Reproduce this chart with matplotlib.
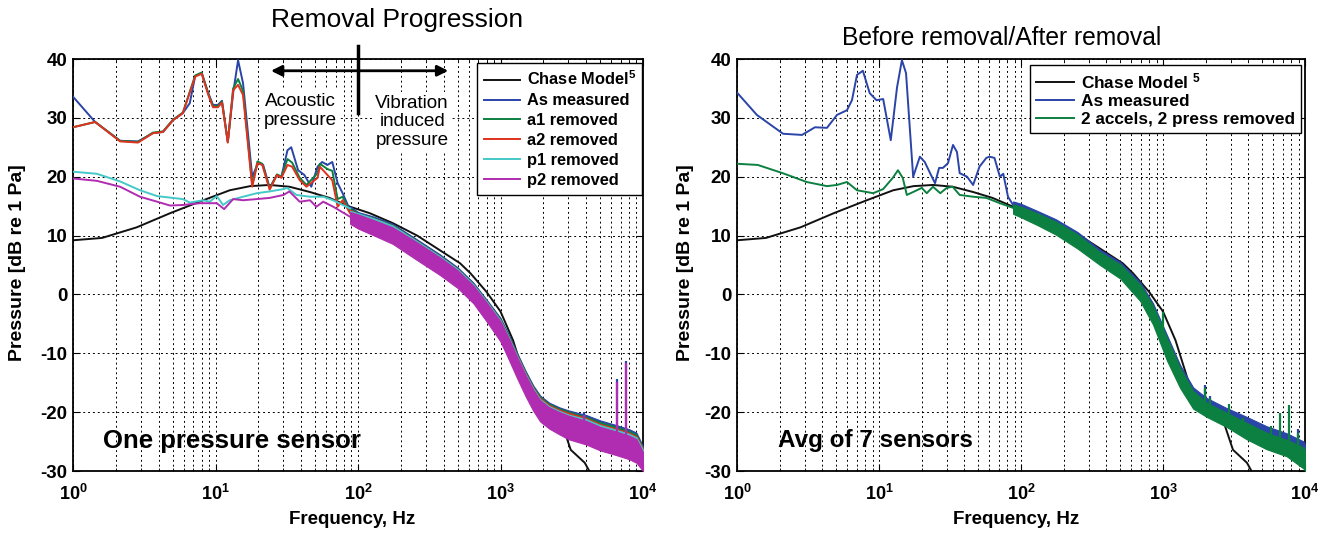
import numpy as np
import matplotlib
matplotlib.use("Agg")
import matplotlib.pyplot as plt

plt.rcParams['font.family'] = ['Liberation Sans', 'DejaVu Sans']
plt.rcParams['mathtext.fontset'] = 'custom'
plt.rcParams['mathtext.rm'] = 'Liberation Sans'
plt.rcParams['mathtext.bf'] = 'Liberation Sans:bold'
plt.rcParams['mathtext.default'] = 'regular'

# ---------------- data ----------------
# Chase model (same curve on both panels)
CHASE_F = [1, 1.6, 2.8, 4.8, 8.2, 12.6, 17.5, 24, 33, 46, 63, 88, 121, 176, 260, 376,
           520, 615, 800, 1000, 1225, 1440, 1590, 1820, 2400, 2600, 3110, 3900, 4200]
CHASE_DB = [9.2, 9.6, 11.4, 13.8, 16.0, 17.7, 18.4, 18.6, 18.3, 17.4, 16.4, 14.9, 13.8, 12.1,
            10.0, 7.5, 5.3, 3.6, 0.4, -2.9, -7.8, -13.2, -16.6, -17.6, -20.0, -20.8, -26.4,
            -28.6, -30.0]

# Left panel: low-frequency traces
BLUE_L_F = [1, 1.43, 2.14, 2.86, 3.64, 4.28, 5.03, 5.9, 6.6, 7.2, 8.0, 8.9, 9.6, 10.4, 11.1,
            12.2, 13.3, 14.4, 15.6, 18.1, 19.9, 21.6, 24, 27, 29, 32, 34, 38, 42, 47, 52, 56,
            61, 66, 72, 78, 88]
BLUE_L_DB = [33.6, 29.3, 26.1, 26.0, 27.4, 27.6, 29.6, 30.8, 32.5, 37.1, 37.6, 34.2, 32.2,
             32.2, 32.9, 25.9, 34.2, 39.8, 35.9, 20.0, 22.3, 22.0, 18.1, 20.3, 20.0, 24.5,
             25.0, 21.1, 20.3, 18.3, 21.7, 22.5, 22.0, 22.5, 18.9, 17.2, 14.3]

A_L_F = [1, 1.43, 2.14, 2.86, 3.64, 4.28, 5.03, 5.9, 7.2, 8.0, 8.9, 9.6, 10.4, 11.1, 12.2,
         13.3, 14.4, 15.6, 18.1, 19.7, 21.3, 24, 27, 29, 32, 34.5, 39, 43.5, 52, 54, 61, 66,
         72, 78, 88]
GREEN_L_DB = [28.4, 29.3, 26.1, 25.9, 27.5, 27.7, 29.7, 30.9, 37.2, 37.7, 34.1, 32.0, 32.0,
              32.8, 25.9, 35.0, 36.6, 34.6, 18.6, 22.6, 22.2, 18.0, 20.4, 20.0, 23.0, 22.4,
              19.8, 18.6, 20.6, 22.2, 21.3, 21.0, 16.2, 16.6, 14.0]
RED_L_DB = [28.4, 29.3, 26.0, 25.8, 27.4, 27.6, 29.6, 30.8, 37.0, 37.5, 33.9, 31.8, 31.8,
            32.6, 25.8, 34.7, 35.6, 33.9, 18.3, 22.3, 22.0, 17.8, 20.3, 19.8, 22.0, 21.7,
            19.4, 18.3, 19.8, 21.7, 20.3, 19.4, 14.9, 16.0, 13.8]

CYAN_L_F = [1, 1.47, 2.14, 2.95, 3.9, 5.0, 5.9, 6.6, 8.2, 9.1, 10.2, 11.3, 12.6, 15.6, 19.5,
            24, 30, 31.8, 37, 46, 57, 67, 88]
CYAN_L_DB = [20.85, 20.5, 19.2, 17.7, 16.7, 16.4, 16.2, 15.6, 16.0, 15.75, 16.7, 15.2, 16.0,
             16.6, 17.2, 17.5, 17.9, 18.1, 16.9, 16.6, 16.6, 16.0, 14.6]

MAG_L_F = [1, 1.47, 2.14, 2.95, 3.9, 4.8, 5.9, 7.8, 9.1, 10.2, 11.5, 13.3, 15.6, 19.5, 24,
           30, 33, 39, 46, 51, 57, 67, 88]
MAG_L_DB = [19.7, 19.3, 18.3, 16.6, 15.75, 15.1, 15.2, 15.5, 15.5, 15.5, 14.5, 16.2, 16.0,
            16.2, 16.4, 16.9, 17.5, 15.75, 16.0, 14.9, 15.75, 14.9, 13.2]

# Left panel: broadband (noisy) region, lower / upper envelopes
BAND_L_F = [88, 100, 130, 175, 250, 376, 500, 645, 800, 1000, 1130, 1300, 1500, 1700, 1900,
            2200, 2600, 3000, 4000, 5000, 6500, 8000, 9000, 10000]
MAG_L_HI = [14.0, 13.6, 12.6, 11.4, 9.1, 6.3, 4.1, 1.5, -1.4, -4.6, -7.2, -10.5, -13.7,
            -16.2, -18.0, -19.2, -20.0, -20.6, -21.5, -22.5, -23.3, -24.0, -24.6, -26.8]
MAG_L_LO = [12.0, 11.2, 10.0, 8.6, 6.1, 3.3, 1.1, -1.5, -4.6, -8.0, -10.8, -14.1, -17.3,
            -19.8, -21.6, -22.8, -23.8, -24.6, -25.5, -26.5, -27.3, -28.0, -28.6, -30.0]
OTHERS_L_LO = [12.5, 11.7, 10.5, 9.1, 6.6, 3.8, 1.6, -1.0, -4.1, -7.5, -10.3, -13.6, -16.8,
               -19.3, -21.1, -22.3, -23.3, -24.1, -25.0, -26.0, -26.8, -27.5, -28.1, -29.5]
BLUE_L_HI = [15.0, 14.0, 13.2, 12.0, 9.6, 6.8, 4.6, 2.0, -0.9, -4.0, -6.6, -9.8, -13.0,
             -15.5, -17.2, -18.4, -19.2, -19.7, -20.5, -21.4, -22.2, -22.9, -23.5, -25.8]
GREEN_L_HI = [14.7, 13.8, 13.0, 11.8, 9.4, 6.6, 4.4, 1.8, -1.1, -4.2, -6.8, -10.0, -13.2,
              -15.7, -17.4, -18.6, -19.4, -19.9, -20.8, -21.7, -22.5, -23.2, -23.8, -26.0]
RED_L_HI = [14.4, 13.7, 12.9, 11.7, 9.3, 6.5, 4.3, 1.7, -1.2, -4.4, -7.0, -10.2, -13.4,
            -15.9, -17.6, -18.8, -19.6, -20.1, -21.0, -22.0, -22.8, -23.5, -24.1, -26.2]
CYAN_L_HI = [14.2, 13.8, 12.9, 11.7, 9.3, 6.5, 4.3, 1.7, -1.2, -4.4, -7.0, -10.3, -13.5,
             -16.0, -17.8, -19.0, -19.8, -20.4, -21.2, -22.2, -23.0, -23.7, -24.3, -26.4]

# Left panel: narrow-band tones (base, top)
SPIKE_L_F = [3850, 6570, 7600]
SPIKE_L_BASE = [-22.0, -24.0, -24.5]
SPIKE_L_TOP = [-20.5, -14.9, -11.7]
SPIKE_LB_TOP = [-20.0, -14.4, -11.3]

# Right panel: low-frequency traces
BLUE_R_F = [1, 1.38, 2.11, 2.87, 3.54, 4.3, 5.06, 5.95, 6.45, 7.0, 7.7, 8.6, 9.6, 10.7, 12.1,
            13.4, 14.5, 15.5, 17.4, 19.4, 21, 22.9, 24.8, 26.5, 28.2, 30.6, 33.2, 35.4, 37,
            41.7, 46, 51, 57, 60, 65, 71, 75, 81, 88]
BLUE_R_DB = [34.3, 30.5, 27.3, 27.1, 28.4, 28.3, 30.5, 31.3, 33.0, 37.3, 38.0, 34.2, 33.0,
             33.2, 26.2, 35.2, 39.8, 37.6, 20.0, 23.4, 22.5, 20.6, 18.9, 21.5, 21.5, 22.3,
             25.4, 24.2, 20.6, 20.0, 18.6, 21.7, 23.2, 23.4, 23.2, 20.0, 20.5, 16.6, 15.2]

GREEN_R_F = [1, 1.4, 2.1, 3.1, 4.3, 5.06, 5.95, 7.0, 8.2, 9.1, 10.7, 12.5, 13.6, 14.7, 15.7,
             17.4, 20, 21.7, 24, 27, 30, 33, 37, 46, 57, 71, 88]
GREEN_R_DB = [22.2, 22.0, 20.6, 19.1, 18.4, 18.6, 19.1, 17.7, 17.4, 17.2, 17.9, 19.8, 21.1,
              19.8, 16.9, 17.4, 18.1, 17.2, 18.3, 17.2, 18.1, 18.3, 16.9, 16.6, 16.4, 15.5,
              14.7]

# Right panel: broadband region envelopes
BAND_R_F = [88, 100, 130, 175, 250, 360, 500, 690, 850, 1070, 1320, 1630, 2030, 2800, 3880,
            5370, 7440, 9800, 10000]
GREEN_R_HI = [15.3, 14.9, 13.8, 12.4, 10.2, 7.2, 5.1, 1.7, -1.9, -7.5, -12.5, -16.4, -18.4,
              -20.1, -21.8, -23.5, -24.7, -26.0, -26.6]
GREEN_R_LO = [13.7, 13.1, 11.8, 10.2, 7.8, 5.0, 2.7, -1.1, -5.1, -11.3, -15.9, -19.4, -20.8,
              -22.5, -24.6, -26.3, -27.5, -29.6, -30.0]
BLUE_R_HI = [15.8, 15.4, 14.2, 12.8, 10.6, 7.6, 5.5, 2.1, -1.5, -7.0, -12.0, -15.8, -17.6,
             -19.3, -20.8, -22.4, -23.6, -25.0, -25.6]
BLUE_R_LO = [14.1, 13.5, 12.2, 10.6, 8.2, 5.4, 3.1, -0.7, -4.7, -10.9, -15.5, -19.0, -20.4,
             -22.1, -24.2, -25.9, -27.1, -29.2, -29.8]

SPIKE_R_F = [1000, 1990, 2160, 2930, 3660, 5740, 6620, 7700, 8920]
SPIKE_R_BASE = [-6.5, -18.5, -19.0, -21.0, -22.5, -24.0, -24.5, -25.0, -25.5]
SPIKE_R_TOP = [-3.0, -15.9, -17.6, -18.6, -21.0, -22.3, -20.1, -18.8, -23.5]
SPIKE_RB_F = [1990, 2160, 5640, 8920]
SPIKE_RB_BASE = [-18.0, -18.5, -23.5, -25.0]
SPIKE_RB_TOP = [-15.4, -17.2, -22.6, -22.8]

YTICKS = [-30, -20, -10, 0, 10, 20, 30, 40]
XTICKS = [1, 10, 100, 1000, 10000]
XTICKLABELS = [r'$\mathbf{10^{0}}$', r'$\mathbf{10^{1}}$', r'$\mathbf{10^{2}}$',
               r'$\mathbf{10^{3}}$', r'$\mathbf{10^{4}}$']

C_BLACK = '#111111'
C_BLUE = '#2a44a8'
C_GREEN = '#0c8040'
C_RED = '#e0321e'
C_CYAN = '#45c8c8'
C_MAG = '#b02cb0'

W, H = 1334, 533
fig = plt.figure(figsize=(W / 100, H / 100), dpi=100)
fig.patch.set_facecolor('white')


def px_axes(x0, x1, y0, y1):
    return fig.add_axes([x0 / W, 1 - y1 / H, (x1 - x0) / W, (y1 - y0) / H])


axL = px_axes(73, 643, 59, 471)
axR = px_axes(737, 1305, 59, 471)

GRID_LS = (0, (2.0, 3.0))
LW = 1.4


def style_axes(ax):
    ax.set_xscale('log')
    ax.set_xlim(1, 1e4)
    ax.set_ylim(-30, 40)
    ax.set_yticks(YTICKS)
    ax.set_yticklabels([str(v) for v in YTICKS], fontsize=13.5, fontweight='bold')
    ax.set_xticks(XTICKS)
    ax.set_xticklabels(XTICKLABELS, fontsize=13)
    ax.xaxis.set_minor_locator(matplotlib.ticker.LogLocator(base=10, subs=np.arange(2, 10)))
    ax.xaxis.set_minor_formatter(matplotlib.ticker.NullFormatter())
    ax.grid(True, which='major', color='k', ls=GRID_LS, lw=0.7)
    ax.xaxis.grid(True, which='minor', color='k', ls=GRID_LS, lw=0.7)
    ax.set_axisbelow(True)
    ax.tick_params(which='both', direction='in', top=True, right=True)
    ax.tick_params(which='major', length=5, width=0.8)
    ax.tick_params(which='minor', length=2.5, width=0.6)
    ax.tick_params(axis='x', which='major', pad=9)
    ax.tick_params(axis='y', which='major', pad=4)
    for s in ax.spines.values():
        s.set_linewidth(1.3)
        s.set_color('k')


style_axes(axL)
style_axes(axR)


def legend_kw(size, pad, spacing):
    return dict(loc='upper right', borderaxespad=0, prop={'weight': 'bold', 'size': size},
                frameon=True, fancybox=False, edgecolor='k', framealpha=1,
                handlelength=2.2, handletextpad=0.4, labelspacing=spacing, borderpad=pad)


# ---------------- left panel ----------------
axL.plot(CHASE_F, CHASE_DB, color=C_BLACK, lw=LW, zorder=2, label='Chase Model$^{5}$')

left_series = [
    (BLUE_L_F, BLUE_L_DB, BLUE_L_HI, OTHERS_L_LO, C_BLUE, 'As measured'),
    (A_L_F, GREEN_L_DB, GREEN_L_HI, OTHERS_L_LO, C_GREEN, 'a1 removed'),
    (A_L_F, RED_L_DB, RED_L_HI, OTHERS_L_LO, C_RED, 'a2 removed'),
    (CYAN_L_F, CYAN_L_DB, CYAN_L_HI, OTHERS_L_LO, C_CYAN, 'p1 removed'),
    (MAG_L_F, MAG_L_DB, MAG_L_HI, MAG_L_LO, C_MAG, 'p2 removed'),
]
z = 3
for f, db, hi, lo, c, lab in left_series:
    axL.plot(f, db, color=c, lw=LW, zorder=z, label=lab)
    axL.fill_between(BAND_L_F, lo, hi, color=c, lw=0.8, edgecolor=c, zorder=z)
    z += 1

axL.vlines(SPIKE_L_F, SPIKE_L_BASE, SPIKE_LB_TOP, color=C_BLUE, lw=1.6, zorder=3.5)
axL.vlines(SPIKE_L_F, SPIKE_L_BASE, SPIKE_L_TOP, color=C_MAG, lw=1.6, zorder=8)

legL = axL.legend(bbox_to_anchor=(0.999, 0.99), **legend_kw(11.8, 0.4, 0.3))
legL.get_frame().set_linewidth(1.0)
legL.set_zorder(20)

# removal progression annotation
axL.annotate('', xy=(24.5, 38.0), xytext=(430, 38.0), xycoords='data',
             arrowprops=dict(arrowstyle='<|-|>', color='k', lw=2.0, mutation_scale=16,
                             shrinkA=0, shrinkB=0), annotation_clip=False, zorder=15)
axL.plot([100, 100], [42.2, 30.8], color='k', lw=2.5, clip_on=False, zorder=16)
axL.text(39.5, 31.2, 'Acoustic\npressure', ha='center', va='center', fontsize=13.6,
         linespacing=1.13, zorder=14,
         bbox=dict(facecolor='white', edgecolor='none', pad=2))
axL.text(240, 29.3, 'Vibration\ninduced\npressure', ha='center', va='center', fontsize=13.6,
         linespacing=1.13, zorder=14,
         bbox=dict(facecolor='white', edgecolor='none', pad=2))

# ---------------- right panel ----------------
axR.plot(CHASE_F, CHASE_DB, color=C_BLACK, lw=LW, zorder=2, label='Chase Model $^{5}$')
axR.plot(BLUE_R_F, BLUE_R_DB, color=C_BLUE, lw=LW, zorder=3, label='As measured')
axR.fill_between(BAND_R_F, BLUE_R_LO, BLUE_R_HI, color=C_BLUE, lw=0.8, edgecolor=C_BLUE,
                 zorder=3)
axR.vlines(SPIKE_RB_F, SPIKE_RB_BASE, SPIKE_RB_TOP, color=C_BLUE, lw=1.6, zorder=3)
axR.plot(GREEN_R_F, GREEN_R_DB, color=C_GREEN, lw=LW, zorder=4,
         label='2 accels, 2 press removed')
axR.fill_between(BAND_R_F, GREEN_R_LO, GREEN_R_HI, color=C_GREEN, lw=0.8, edgecolor=C_GREEN,
                 zorder=4)
axR.vlines(SPIKE_R_F, SPIKE_R_BASE, SPIKE_R_TOP, color=C_GREEN, lw=1.6, zorder=4)

legR = axR.legend(bbox_to_anchor=(0.993, 0.985), **legend_kw(12.4, 0.35, 0.18))
legR.get_frame().set_linewidth(1.0)
legR.set_zorder(20)

# ---------------- labels ----------------
def ftext(x, y, s, **kw):
    fig.text(x / W, 1 - y / H, s, **kw)


ftext(397, 20, 'Removal Progression', ha='center', va='center', fontsize=19)
ftext(1002, 38, 'Before removal/After removal', ha='center', va='center', fontsize=17.7)
ftext(18, 263, 'Pressure [dB re 1 Pa]', ha='center', va='center', rotation=90,
      fontsize=14, fontweight='bold')
ftext(686, 263, 'Pressure [dB re 1 Pa]', ha='center', va='center', rotation=90,
      fontsize=14, fontweight='bold')
ftext(352, 520, 'Frequency, Hz', ha='center', va='center', fontsize=13.5, fontweight='bold')
ftext(1016, 520, 'Frequency, Hz', ha='center', va='center', fontsize=13.5, fontweight='bold')
ftext(103, 441, 'One pressure sensor', ha='left', va='center', fontsize=18.5,
      fontweight='bold')
ftext(778, 441, 'Avg of 7 sensors', ha='left', va='center', fontsize=17.5, fontweight='bold')

fig.savefig('out.png', dpi=100, facecolor='white')
